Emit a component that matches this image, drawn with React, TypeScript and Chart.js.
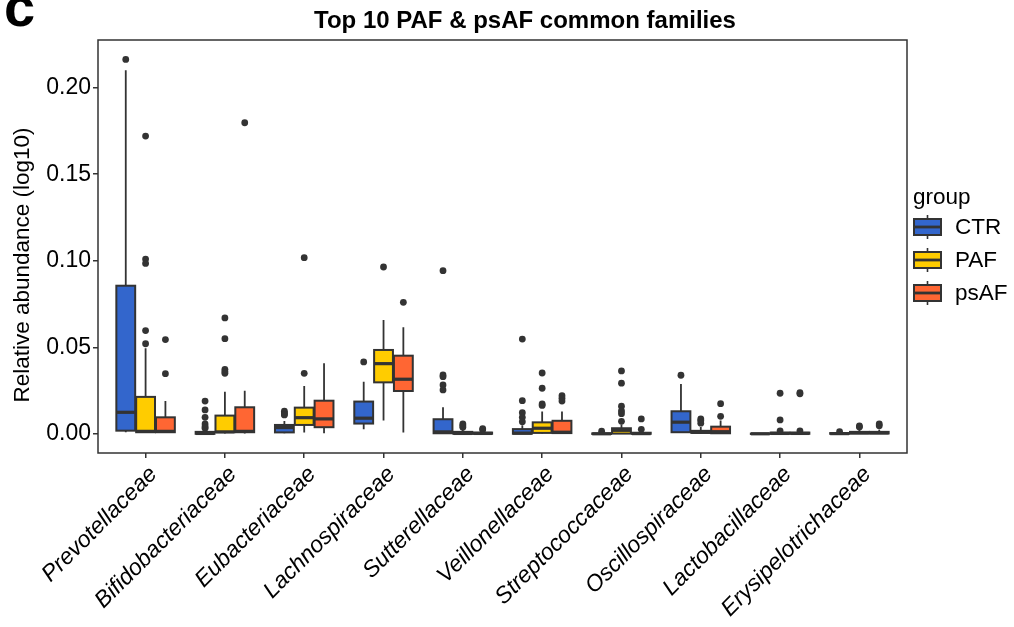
import React, { useEffect, useRef } from "react";
import { Chart, registerables } from "chart.js";

Chart.register(...registerables);

const categories = [
  "Prevotellaceae",
  "Bifidobacteriaceae",
  "Eubacteriaceae",
  "Lachnospiraceae",
  "Sutterellaceae",
  "Veillonellaceae",
  "Streptococcaceae",
  "Oscillospiraceae",
  "Lactobacillaceae",
  "Erysipelotrichaceae",
];

const groups = ["CTR", "PAF", "psAF"];
const groupColors = ["#3366CC", "#FFCC00", "#FF6633"];

// [lower whisker, q1, median, q3, upper whisker]
const ctrStats = [
  [0.001, 0.0019, 0.0125, 0.0856, 0.21],
  [0.0, 0.0001, 0.0003, 0.0012, 0.0028],
  [0.0004, 0.0009, 0.0037, 0.0052, 0.0075],
  [0.0027, 0.006, 0.0091, 0.0187, 0.0302],
  [0.0, 0.0004, 0.0012, 0.0085, 0.0154],
  [0.0, 0.0001, 0.0005, 0.0028, 0.005],
  [0.0, 0.0, 0.0001, 0.0003, 0.0006],
  [0.0005, 0.001, 0.0068, 0.0131, 0.0289],
  [0.0, 0.0, 0.0001, 0.0002, 0.0004],
  [0.0, 0.0001, 0.0002, 0.0005, 0.0009],
];
const pafStats = [
  [0.0005, 0.001, 0.0015, 0.0214, 0.0495],
  [0.0003, 0.001, 0.0012, 0.0106, 0.0244],
  [0.0008, 0.0052, 0.0094, 0.0152, 0.0277],
  [0.0077, 0.0298, 0.0406, 0.0485, 0.0658],
  [0.0, 0.0001, 0.0003, 0.0012, 0.0025],
  [0.0003, 0.0006, 0.0033, 0.0067, 0.0129],
  [0.0, 0.0002, 0.0021, 0.0033, 0.0055],
  [0.0002, 0.0006, 0.001, 0.0018, 0.004],
  [0.0, 0.0001, 0.0003, 0.0008, 0.0015],
  [0.0, 0.0003, 0.0006, 0.0012, 0.0025],
];
const psafStats = [
  [0.0005, 0.001, 0.0015, 0.0096, 0.019],
  [0.0003, 0.001, 0.0015, 0.0154, 0.025],
  [0.0004, 0.0039, 0.0087, 0.0192, 0.0408],
  [0.0008, 0.0248, 0.0316, 0.0452, 0.0616],
  [0.0, 0.0001, 0.0003, 0.0008, 0.0016],
  [0.0002, 0.0005, 0.001, 0.0076, 0.0129],
  [0.0, 0.0001, 0.0002, 0.0007, 0.0015],
  [0.0001, 0.0004, 0.0013, 0.0042, 0.0077],
  [0.0, 0.0001, 0.0003, 0.0008, 0.0015],
  [0.0, 0.0003, 0.0006, 0.0012, 0.0025],
];

const ctrOutliers = [
  [0.2163],
  [0.019, 0.0139, 0.0096, 0.0058, 0.0042, 0.0033],
  [0.0131, 0.0122, 0.0115, 0.011],
  [0.0416],
  [0.0943, 0.0341, 0.0331, 0.0283, 0.0254],
  [0.0548, 0.0192, 0.0123, 0.0096, 0.0071],
  [0.0016],
  [0.0339],
  [],
  [0.0013],
];
const pafOutliers = [
  [0.172, 0.101, 0.0985, 0.0597, 0.0521],
  [0.067, 0.055, 0.0373, 0.036, 0.035],
  [0.1018, 0.035],
  [0.0964],
  [0.0058, 0.0048, 0.0039],
  [0.0352, 0.0264, 0.0173, 0.0165],
  [0.0364, 0.0293, 0.016, 0.0133, 0.0117, 0.0073],
  [0.0087, 0.0077, 0.0062],
  [0.0235, 0.0081, 0.0018],
  [0.0046, 0.004],
];
const psafOutliers = [
  [0.0545, 0.0348],
  [0.1797],
  [],
  [0.076],
  [0.003, 0.0024],
  [0.0221, 0.0206, 0.019],
  [0.0087, 0.0027],
  [0.0175, 0.0102],
  [0.0238, 0.0232, 0.0018],
  [0.0058, 0.0048],
];

const yTicks = [0, 0.05, 0.1, 0.15, 0.2];
const yMin = -0.011;
const yMax = 0.2275;

const statsByGroup = [ctrStats, pafStats, psafStats];
const outliersByGroup = [ctrOutliers, pafOutliers, psafOutliers];

const FONT = "'Liberation Sans', Arial, Helvetica, sans-serif";
const INK = "#333333";

const boxPlugin = {
  id: "boxplotParts",
  beforeDatasetsDraw(chart: any) {
    const ctx = chart.ctx;
    const ys = chart.scales.y;
    ctx.save();
    ctx.strokeStyle = INK;
    ctx.lineWidth = 1.8;
    groups.forEach((_, gi) => {
      const meta = chart.getDatasetMeta(gi);
      meta.data.forEach((bar: any, i: number) => {
        const s = statsByGroup[gi][i];
        const x = bar.x;
        ctx.beginPath();
        ctx.moveTo(x, ys.getPixelForValue(s[0]));
        ctx.lineTo(x, ys.getPixelForValue(s[1]));
        ctx.moveTo(x, ys.getPixelForValue(s[3]));
        ctx.lineTo(x, ys.getPixelForValue(s[4]));
        ctx.stroke();
      });
    });
    ctx.restore();
  },
  afterDatasetDraw(chart: any, args: any) {
    const gi = args.index;
    if (gi > 2) return;
    const ctx = chart.ctx;
    const ys = chart.scales.y;
    const meta = chart.getDatasetMeta(gi);
    ctx.save();
    ctx.strokeStyle = INK;
    meta.data.forEach((bar: any, i: number) => {
      const s = statsByGroup[gi][i];
      const left = bar.x - bar.width / 2;
      const right = bar.x + bar.width / 2;
      const top = ys.getPixelForValue(s[3]);
      const bottom = ys.getPixelForValue(s[1]);
      ctx.lineWidth = 2;
      ctx.strokeRect(left, top, right - left, bottom - top);
      const m = ys.getPixelForValue(s[2]);
      ctx.lineWidth = 3.2;
      ctx.beginPath();
      ctx.moveTo(left, m);
      ctx.lineTo(right, m);
      ctx.stroke();
    });
    ctx.restore();
  },
  afterDraw(chart: any) {
    const ctx = chart.ctx;
    const a = chart.chartArea;
    ctx.save();
    // panel border
    ctx.strokeStyle = INK;
    ctx.lineWidth = 1.5;
    ctx.strokeRect(a.left, a.top, a.right - a.left, a.bottom - a.top);

    // panel letter
    ctx.fillStyle = "#000";
    ctx.font = `bold 56px ${FONT}`;
    ctx.textAlign = "left";
    ctx.textBaseline = "alphabetic";
    ctx.fillText("c", 4, 26);

    // title
    ctx.font = `bold 24px ${FONT}`;
    ctx.textAlign = "center";
    ctx.textBaseline = "middle";
    ctx.fillText("Top 10 PAF & psAF common families", 525, 21);

    // y axis title
    ctx.save();
    ctx.translate(23, 265);
    ctx.rotate(-Math.PI / 2);
    ctx.font = `22.5px ${FONT}`;
    ctx.fillStyle = "#000";
    ctx.textAlign = "center";
    ctx.textBaseline = "middle";
    ctx.fillText("Relative abundance (log10)", 0, 0);
    ctx.restore();

    // legend
    ctx.font = `22.5px ${FONT}`;
    ctx.fillStyle = "#000";
    ctx.textAlign = "left";
    ctx.textBaseline = "middle";
    ctx.fillText("group", 913, 198);
    groups.forEach((g, gi) => {
      const cy = 227 + gi * 33;
      const kx = 914;
      const kw = 27;
      const cx = kx + kw / 2;
      ctx.strokeStyle = INK;
      ctx.lineWidth = 1.6;
      ctx.beginPath();
      ctx.moveTo(cx, cy - 12);
      ctx.lineTo(cx, cy + 12);
      ctx.stroke();
      ctx.fillStyle = groupColors[gi];
      ctx.fillRect(kx, cy - 8, kw, 16);
      ctx.lineWidth = 2;
      ctx.strokeRect(kx, cy - 8, kw, 16);
      ctx.lineWidth = 2.8;
      ctx.beginPath();
      ctx.moveTo(kx, cy);
      ctx.lineTo(kx + kw, cy);
      ctx.stroke();
      ctx.fillStyle = "#000";
      ctx.fillText(g, 955, cy + 1);
    });
    ctx.restore();
  },
};

export default function App() {
  const canvasRef = useRef<HTMLCanvasElement | null>(null);

  useEffect(() => {
    if (!canvasRef.current) return;
    const barDatasets = groups.map((g, gi) => ({
      type: "bar" as const,
      label: g,
      data: categories.map((_, i) => ({
        x: i,
        y: [statsByGroup[gi][i][1], statsByGroup[gi][i][3]],
      })),
      backgroundColor: groupColors[gi],
      borderWidth: 0,
      categoryPercentage: 0.75,
      barPercentage: 0.95,
      order: 1,
    }));
    const outlierDatasets = groups.map((g, gi) => ({
      type: "scatter" as const,
      label: g + " outliers",
      data: categories.flatMap((_, i) =>
        outliersByGroup[gi][i].map((v) => ({ x: i + (gi - 1) * 0.25, y: v }))
      ),
      pointRadius: 3.4,
      pointHoverRadius: 3.4,
      backgroundColor: INK,
      borderWidth: 0,
      order: 0,
    }));

    const chart = new Chart(canvasRef.current, {
      type: "bar",
      data: { datasets: [...barDatasets, ...outlierDatasets] as any },
      plugins: [boxPlugin],
      options: {
        animation: false,
        responsive: true,
        maintainAspectRatio: false,
        layout: { padding: { top: 40, right: 107, left: 0, bottom: 0 } },
        plugins: {
          legend: { display: false },
          tooltip: { enabled: false },
          title: { display: false },
        },
        scales: {
          x: {
            type: "linear",
            min: -0.6,
            max: 9.6,
            offset: false,
            grid: {
              display: true,
              drawOnChartArea: false,
              drawTicks: true,
              tickLength: 5,
              color: INK,
              lineWidth: 1.5,
              offset: false,
            },
            border: { display: false },
            afterBuildTicks: (scale: any) => {
              scale.ticks = categories.map((_, i) => ({ value: i }));
            },
            afterFit: (scale: any) => {
              scale.height = 174;
            },
            ticks: {
              autoSkip: false,
              maxRotation: 45,
              minRotation: 45,
              padding: 3,
              labelOffset: 8,
              color: "#000",
              font: { family: FONT, size: 23, style: "italic" },
              callback: (v: any) => categories[Math.round(Number(v))] ?? "",
            },
          },
          y: {
            type: "linear",
            min: yMin,
            max: yMax,
            grid: {
              display: true,
              drawOnChartArea: false,
              drawTicks: true,
              tickLength: 5,
              color: INK,
              lineWidth: 1.5,
            },
            border: { display: false },
            afterBuildTicks: (scale: any) => {
              scale.ticks = yTicks.map((v) => ({ value: v }));
            },
            afterFit: (scale: any) => {
              scale.width = 98;
            },
            ticks: {
              padding: 2,
              color: "#000",
              font: { family: FONT, size: 23 },
              callback: (v: any) => Number(v).toFixed(2),
            },
          },
        },
      } as any,
    });
    return () => chart.destroy();
  }, []);

  return (
    <div
      style={{
        position: "fixed",
        left: 0,
        top: 0,
        width: 1014,
        height: 627,
        background: "#fff",
      }}
    >
      <canvas ref={canvasRef} />
    </div>
  );
}
